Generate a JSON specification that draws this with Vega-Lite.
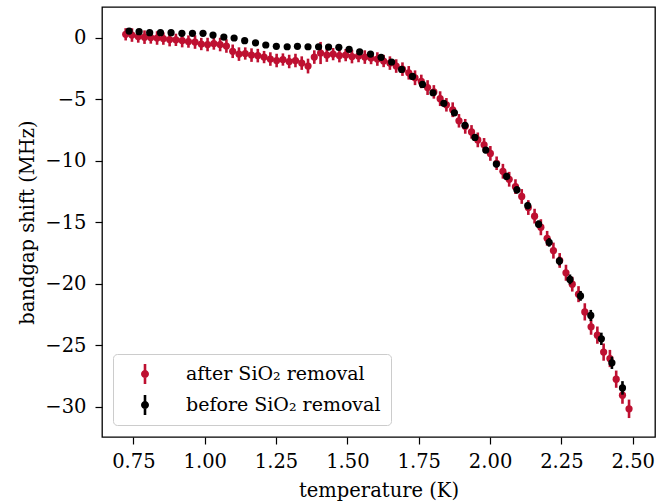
{
  "$schema": "https://vega.github.io/schema/vega-lite/v6.json",
  "width": 553,
  "height": 430,
  "autosize": "none",
  "padding": {"left": 102, "top": 7, "right": 10, "bottom": 67},
  "background": "white",
  "datasets": {
    "after": [
      {"T": 0.723, "v": 0.28, "e": 0.5}, {"T": 0.745, "v": 0.22, "e": 0.55}, {"T": 0.767, "v": 0.10, "e": 0.5},
      {"T": 0.789, "v": 0.05, "e": 0.55}, {"T": 0.811, "v": 0.02, "e": 0.5}, {"T": 0.833, "v": -0.02, "e": 0.55},
      {"T": 0.855, "v": -0.07, "e": 0.5}, {"T": 0.877, "v": -0.15, "e": 0.55}, {"T": 0.899, "v": -0.17, "e": 0.5},
      {"T": 0.921, "v": -0.23, "e": 0.55}, {"T": 0.943, "v": -0.31, "e": 0.5}, {"T": 0.966, "v": -0.35, "e": 0.55},
      {"T": 0.988, "v": -0.51, "e": 0.5}, {"T": 1.010, "v": -0.55, "e": 0.55}, {"T": 1.032, "v": -0.47, "e": 0.5},
      {"T": 1.054, "v": -0.55, "e": 0.55}, {"T": 1.076, "v": -0.67, "e": 0.55}, {"T": 1.098, "v": -1.10, "e": 0.55},
      {"T": 1.120, "v": -1.33, "e": 0.55}, {"T": 1.142, "v": -1.28, "e": 0.5}, {"T": 1.164, "v": -1.41, "e": 0.55},
      {"T": 1.186, "v": -1.45, "e": 0.55}, {"T": 1.208, "v": -1.57, "e": 0.5}, {"T": 1.230, "v": -1.73, "e": 0.55},
      {"T": 1.252, "v": -1.85, "e": 0.55}, {"T": 1.274, "v": -1.77, "e": 0.5}, {"T": 1.296, "v": -1.93, "e": 0.55},
      {"T": 1.318, "v": -1.85, "e": 0.55}, {"T": 1.340, "v": -2.06, "e": 0.55}, {"T": 1.362, "v": -2.30, "e": 0.6},
      {"T": 1.384, "v": -1.57, "e": 0.55}, {"T": 1.406, "v": -1.24, "e": 0.9}, {"T": 1.428, "v": -1.41, "e": 0.55},
      {"T": 1.450, "v": -1.33, "e": 0.5}, {"T": 1.472, "v": -1.45, "e": 0.55}, {"T": 1.494, "v": -1.41, "e": 0.5},
      {"T": 1.516, "v": -1.53, "e": 0.55}, {"T": 1.539, "v": -1.49, "e": 0.5}, {"T": 1.561, "v": -1.57, "e": 0.55},
      {"T": 1.583, "v": -1.65, "e": 0.5}, {"T": 1.605, "v": -1.73, "e": 0.55}, {"T": 1.627, "v": -1.89, "e": 0.5},
      {"T": 1.649, "v": -2.06, "e": 0.55}, {"T": 1.671, "v": -2.30, "e": 0.55}, {"T": 1.693, "v": -2.55, "e": 0.55},
      {"T": 1.715, "v": -2.85, "e": 0.55}, {"T": 1.737, "v": -3.25, "e": 0.6}, {"T": 1.759, "v": -3.55, "e": 0.55},
      {"T": 1.781, "v": -4.05, "e": 0.6}, {"T": 1.803, "v": -4.40, "e": 0.55}, {"T": 1.825, "v": -4.95, "e": 0.6},
      {"T": 1.847, "v": -5.45, "e": 0.55}, {"T": 1.869, "v": -5.85, "e": 0.6}, {"T": 1.891, "v": -6.75, "e": 0.55},
      {"T": 1.913, "v": -7.20, "e": 0.6}, {"T": 1.935, "v": -7.65, "e": 0.55}, {"T": 1.957, "v": -8.30, "e": 0.6},
      {"T": 1.979, "v": -8.70, "e": 0.55}, {"T": 2.001, "v": -9.40, "e": 0.6}, {"T": 2.023, "v": -10.20, "e": 0.55},
      {"T": 2.045, "v": -10.85, "e": 0.6}, {"T": 2.067, "v": -11.50, "e": 0.6}, {"T": 2.089, "v": -12.10, "e": 0.6},
      {"T": 2.111, "v": -12.90, "e": 0.6}, {"T": 2.134, "v": -13.80, "e": 0.6}, {"T": 2.156, "v": -14.50, "e": 0.6},
      {"T": 2.178, "v": -15.40, "e": 0.65}, {"T": 2.200, "v": -16.30, "e": 0.6}, {"T": 2.222, "v": -17.30, "e": 0.65},
      {"T": 2.244, "v": -18.10, "e": 0.6}, {"T": 2.266, "v": -19.10, "e": 0.65}, {"T": 2.288, "v": -20.03, "e": 0.6},
      {"T": 2.310, "v": -20.84, "e": 0.65}, {"T": 2.332, "v": -22.28, "e": 0.7}, {"T": 2.354, "v": -23.49, "e": 0.65},
      {"T": 2.376, "v": -24.17, "e": 0.7}, {"T": 2.398, "v": -25.55, "e": 0.7}, {"T": 2.420, "v": -26.07, "e": 0.7},
      {"T": 2.442, "v": -27.75, "e": 0.7}, {"T": 2.464, "v": -29.05, "e": 0.7}, {"T": 2.487, "v": -30.16, "e": 0.75}
    ],
    "before": [
      {"T": 0.735, "v": 0.54, "e": 0.12}, {"T": 0.770, "v": 0.49, "e": 0.12}, {"T": 0.807, "v": 0.41, "e": 0.12},
      {"T": 0.845, "v": 0.41, "e": 0.12}, {"T": 0.882, "v": 0.41, "e": 0.12}, {"T": 0.920, "v": 0.36, "e": 0.12},
      {"T": 0.957, "v": 0.36, "e": 0.12}, {"T": 0.994, "v": 0.36, "e": 0.12}, {"T": 1.029, "v": 0.22, "e": 0.12},
      {"T": 1.067, "v": 0.06, "e": 0.12}, {"T": 1.103, "v": -0.02, "e": 0.12}, {"T": 1.140, "v": -0.24, "e": 0.12},
      {"T": 1.178, "v": -0.41, "e": 0.12}, {"T": 1.214, "v": -0.59, "e": 0.12}, {"T": 1.251, "v": -0.70, "e": 0.12},
      {"T": 1.289, "v": -0.73, "e": 0.12}, {"T": 1.325, "v": -0.70, "e": 0.12}, {"T": 1.362, "v": -0.73, "e": 0.12},
      {"T": 1.399, "v": -0.73, "e": 0.12}, {"T": 1.434, "v": -0.76, "e": 0.12}, {"T": 1.470, "v": -0.78, "e": 0.12},
      {"T": 1.506, "v": -0.94, "e": 0.12}, {"T": 1.543, "v": -1.14, "e": 0.12}, {"T": 1.581, "v": -1.33, "e": 0.12},
      {"T": 1.618, "v": -1.59, "e": 0.15}, {"T": 1.655, "v": -1.97, "e": 0.15}, {"T": 1.690, "v": -2.57, "e": 0.2},
      {"T": 1.728, "v": -3.14, "e": 0.2}, {"T": 1.763, "v": -3.79, "e": 0.2}, {"T": 1.800, "v": -4.47, "e": 0.2},
      {"T": 1.838, "v": -5.33, "e": 0.2}, {"T": 1.875, "v": -6.10, "e": 0.2}, {"T": 1.912, "v": -7.12, "e": 0.25},
      {"T": 1.947, "v": -8.10, "e": 0.25}, {"T": 1.985, "v": -9.13, "e": 0.25}, {"T": 2.022, "v": -10.27, "e": 0.25},
      {"T": 2.058, "v": -11.27, "e": 0.3}, {"T": 2.094, "v": -12.36, "e": 0.3}, {"T": 2.132, "v": -13.64, "e": 0.3},
      {"T": 2.170, "v": -15.15, "e": 0.3}, {"T": 2.207, "v": -16.63, "e": 0.35}, {"T": 2.243, "v": -18.15, "e": 0.35},
      {"T": 2.280, "v": -19.64, "e": 0.4}, {"T": 2.317, "v": -20.98, "e": 0.4}, {"T": 2.353, "v": -22.57, "e": 0.45},
      {"T": 2.390, "v": -24.47, "e": 0.5}, {"T": 2.427, "v": -26.42, "e": 0.5}, {"T": 2.464, "v": -28.46, "e": 0.55}
    ]
  },
  "config": {
    "view": {"stroke": "black", "strokeWidth": 1.3},
    "font": "DejaVu Serif",
    "axis": {
      "labelFont": "DejaVu Serif",
      "labelFontSize": 19.5,
      "labelColor": "black",
      "titleFont": "DejaVu Serif",
      "titleFontSize": 19.5,
      "titleFontWeight": "normal",
      "titleColor": "black",
      "tickColor": "black",
      "tickSize": 7,
      "tickWidth": 1.2,
      "domain": false,
      "grid": false,
      "labelPadding": 8,
      "titlePadding": 4,
      "labelFlush": false
    },
    "axisX": {"titlePadding": 11},
    "axisY": {"titlePadding": 7, "labelPadding": 9}
  },
  "layer": [
    {
      "data": {"name": "after"},
      "mark": {"type": "errorbar", "color": "#be1031", "thickness": 2.6},
      "encoding": {
        "x": {"field": "T", "type": "quantitative", "scale": {"domain": [0.64, 2.578], "nice": false, "zero": false}, "axis": {"values": [0.75, 1, 1.25, 1.5, 1.75, 2, 2.25, 2.5], "format": ".2f", "title": "temperature (K)"}},
        "y": {"field": "v", "type": "quantitative", "scale": {"domain": [-32.45, 2.5], "nice": false, "zero": false}, "axis": {"values": [0, -5, -10, -15, -20, -25, -30], "format": "d", "title": "bandgap shift (MHz)"}},
        "yError": {"field": "e"}
      }
    },
    {
      "data": {"name": "after"},
      "mark": {"type": "point", "filled": true, "size": 52, "opacity": 1, "strokeWidth": 0},
      "encoding": {
        "x": {"field": "T", "type": "quantitative", "title": "temperature (K)"},
        "y": {"field": "v", "type": "quantitative", "title": "bandgap shift (MHz)"},
        "color": {
          "datum": "after SiO₂ removal",
          "scale": {"domain": ["after SiO₂ removal", "before SiO₂ removal"], "range": ["#be1031", "#000000"]},
          "legend": {"orient": "none", "legendX": 11, "legendY": 347, "title": null,
            "symbolType": "M-0.13,-1L0.13,-1L0.13,1L-0.13,1Z M0.4,0A0.4,0.4 0 1,1 -0.4,0A0.4,0.4 0 1,1 0.4,0Z",
            "symbolSize": 400, "symbolStrokeWidth": 0, "symbolOffset": 12, "labelOffset": 31, "labelLimit": 0,
            "labelFontSize": 19, "labelFont": "DejaVu Serif", "labelColor": "black", "rowPadding": 11,
            "padding": 10, "cornerRadius": 4, "strokeColor": "#cccccc", "fillColor": "rgba(255,255,255,0.8)"}
        }
      }
    },
    {
      "data": {"name": "before"},
      "mark": {"type": "errorbar", "color": "#000000", "thickness": 2.6},
      "encoding": {
        "x": {"field": "T", "type": "quantitative", "title": "temperature (K)"},
        "y": {"field": "v", "type": "quantitative", "title": "bandgap shift (MHz)"},
        "yError": {"field": "e"}
      }
    },
    {
      "data": {"name": "before"},
      "mark": {"type": "point", "filled": true, "size": 52, "opacity": 1, "strokeWidth": 0},
      "encoding": {
        "x": {"field": "T", "type": "quantitative", "title": "temperature (K)"},
        "y": {"field": "v", "type": "quantitative", "title": "bandgap shift (MHz)"},
        "color": {
          "datum": "before SiO₂ removal",
          "legend": {"orient": "none", "legendX": 11, "legendY": 347, "title": null,
            "symbolType": "M-0.13,-1L0.13,-1L0.13,1L-0.13,1Z M0.4,0A0.4,0.4 0 1,1 -0.4,0A0.4,0.4 0 1,1 0.4,0Z",
            "symbolSize": 400, "symbolStrokeWidth": 0, "symbolOffset": 12, "labelOffset": 31, "labelLimit": 0,
            "labelFontSize": 19, "labelFont": "DejaVu Serif", "labelColor": "black", "rowPadding": 11,
            "padding": 10, "cornerRadius": 4, "strokeColor": "#cccccc", "fillColor": "rgba(255,255,255,0.8)"}
        }
      }
    }
  ]
}
